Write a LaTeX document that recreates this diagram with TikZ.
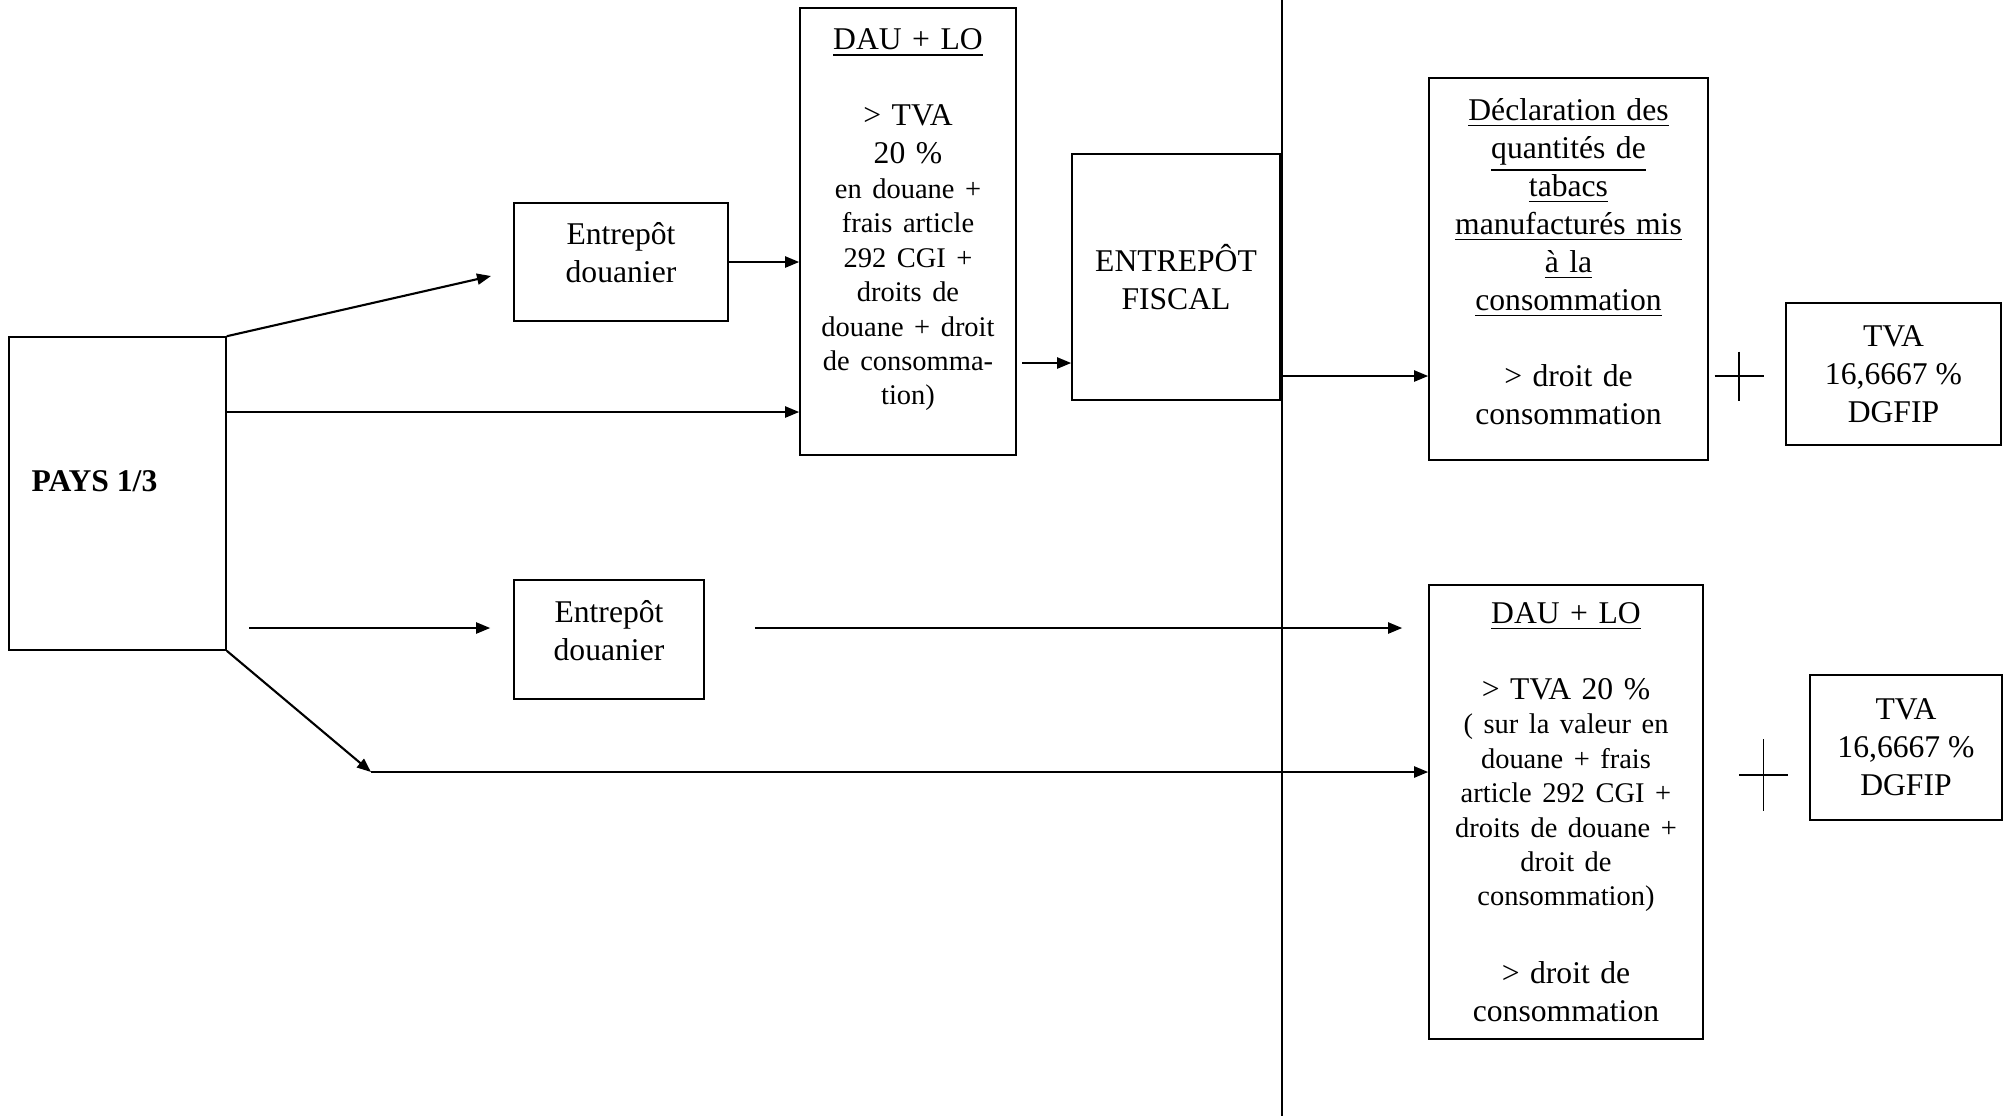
\documentclass[tikz,border=0pt]{standalone}
\usepackage{fontspec}
\setmainfont{Liberation Serif}
\usetikzlibrary{arrows.meta, positioning, calc}
\newcommand{\txtbig}{\fontsize{9}{10.8}\selectfont}
\newcommand{\txtsmall}{\fontsize{8.1}{9.8}\selectfont}
% remonte le texte d'une boite (ajoute un blanc sous la derniere ligne)
\newcommand{\remonter}[1]{\par\nointerlineskip\vspace{#1}\hbox{}}
\lineskiplimit=-5pt

\tikzset{
    boite/.style={draw, line width=0.45pt, align=center, inner sep=0pt, font=\txtbig},
    fleche/.style={-{Triangle[length=1.4mm, width=1.1mm]}, line width=0.6pt},
    trait/.style={line width=0.5pt}
}

\begin{document}
\begin{tikzpicture}
    \useasboundingbox (0,0) rectangle (20.11,-11.16);

    % === PAYS D'ORIGINE ===
    \node[boite, minimum width=2.17cm, minimum height=3.13cm] (pays) at (1.175,-4.935) {};
    \node[font=\txtbig\bfseries, anchor=west, inner sep=0pt] (paystxt) at (0.31,-4.81) {PAYS 1/3};

    % === CIRCUIT DU HAUT ===
    \node[boite, minimum width=2.14cm, minimum height=1.18cm, text width=2.0cm] (ed1) at (6.21,-2.62) {Entrepôt\\douanier\remonter{0.18cm}};

    \node[boite, minimum width=2.16cm, minimum height=4.47cm, text width=2.0cm] (dau1) at (9.08,-2.315) {
        {\txtbig\underline{DAU + LO}\par\vspace{10.8pt}
        > TVA\\ 20~\%\par}
        {\txtsmall en douane +\\ frais article\\ 292 CGI +\\ droits de\\ douane + droit\\ de consomma-\\ tion)\par}
        \remonter{0.23cm}
    };

    \node[boite, minimum width=2.08cm, minimum height=2.46cm] (fiscal) at (11.76,-2.77) {ENTREPÔT\\FISCAL};

    \node[boite, minimum width=2.79cm, minimum height=3.82cm, text width=2.6cm] (decl) at (15.685,-2.69) {
        {\underline{Déclaration des}\\ \underline{quantités de}\\ \underline{tabacs}\\
        \underline{manufacturés mis}\\ \underline{à la}\\ \underline{consommation}\par}
        \vspace{10.8pt}
        {> droit de\\ consommation\par}
        \remonter{0.15cm}
    };

    \node[boite, minimum width=2.15cm, minimum height=1.42cm] (tva1) at (18.935,-3.74) {TVA\\16,6667~\%\\DGFIP};

    % Flèches du haut
    \coordinate (vers ed1) at (4.91,-2.76);
    \draw[fleche] (pays.north east) -- (vers ed1);
    \draw[fleche] (ed1.east) -- (ed1.east -| dau1.west);
    \draw[fleche] ([yshift=8.15mm]pays.east) -- ([yshift=8.15mm]pays.east -| dau1.west);
    \coordinate (sortie dau1) at (10.22,-3.63);
    \draw[fleche] (sortie dau1) -- (sortie dau1 -| fiscal.west);
    \draw[fleche] ([yshift=-9.9mm]fiscal.east) -- ([yshift=-9.9mm]fiscal.east -| decl.west);

    % Plus
    \coordinate (plus1) at (17.39,-3.76);
    \draw[trait] ($(plus1)+(-0.245,0)$) -- ($(plus1)+(0.245,0)$);
    \draw[trait] ($(plus1)+(0,0.245)$) -- ($(plus1)+(0,-0.245)$);

    % Frontière
    \draw[line width=0.6pt] (12.82,0) -- (12.82,-11.16);

    % === CIRCUIT DU BAS ===
    \node[boite, minimum width=1.90cm, minimum height=1.19cm, text width=1.8cm] (ed2) at (6.09,-6.395) {Entrepôt\\douanier\remonter{0.18cm}};

    \node[boite, minimum width=2.74cm, minimum height=4.54cm, text width=2.5cm] (dau2) at (15.66,-8.12) {
        {\txtbig\underline{DAU + LO}\par\vspace{10.8pt}
        > TVA 20~\%\par}
        {\txtsmall ( sur la valeur en\\ douane + frais\\ article 292 CGI +\\ droits de douane +\\ droit de\\ consommation)\par}
        \vspace{11.2pt}
        {\txtbig > droit de\\ consommation\par}
    };

    \node[boite, minimum width=1.92cm, minimum height=1.45cm] (tva2) at (19.06,-7.475) {TVA\\16,6667~\%\\DGFIP};

    % Flèches du bas
    \coordinate (depart ed2) at (2.49,-6.28);
    \draw[fleche, shorten >=2.3mm] (depart ed2) -- (depart ed2 -| ed2.west);
    \draw[fleche, shorten <=5mm, shorten >=2.6mm] (depart ed2 -| ed2.east) -- (depart ed2 -| dau2.west);
    \coordinate (coude) at (3.71,-7.72);
    \draw[fleche] (pays.south east) -- (coude);
    \draw[fleche] (coude) -- (coude -| dau2.west);

    % Plus
    \coordinate (plus2) at (17.635,-7.75);
    \draw[trait] ($(plus2)+(-0.245,0)$) -- ($(plus2)+(0.245,0)$);
    \draw[trait] ($(plus2)+(0,0.36)$) -- ($(plus2)+(0,-0.36)$);
\end{tikzpicture}
\end{document}
